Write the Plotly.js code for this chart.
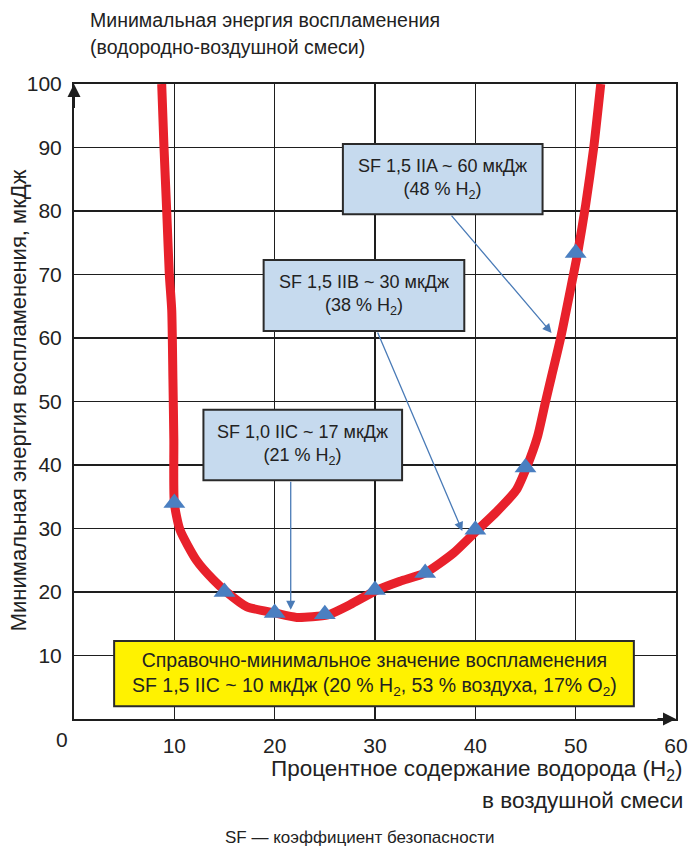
<!DOCTYPE html>
<html>
<head>
<meta charset="utf-8">
<script src="https://cdn.plot.ly/plotly-3.0.1.min.js"></script>
<style>html,body{margin:0;padding:0;background:#fff;}#chart{width:690px;height:854px;}</style>
</head>
<body>
<div id="chart"></div>
<script>
// Curve (H2 %, minimum ignition energy, µJ)
const curveX = [8.74, 8.97, 9.24, 9.5, 9.74, 9.86, 9.95, 10.0, 10.56, 12.2, 13.9, 15.2, 17.2, 20, 22.2, 25.3, 27.5, 30.2, 32.5, 35, 37.8, 40.1, 42.1, 44.1, 45.1, 46.2, 47.0, 47.6, 48.5, 49.4, 50.2, 51.0, 51.8, 52.5];
const curveY = [100, 90, 80, 70, 64.4, 53.4, 44, 34, 29.8, 25, 21.9, 20, 17.7, 16.7, 16, 16.4, 18, 20.3, 21.7, 23, 26.1, 29.6, 32.6, 36.1, 39.6, 44.5, 50, 54, 60, 67, 73.4, 81, 90, 100];
// Measured points (triangles)
const pointX = [10, 15, 20, 25, 30, 35, 40, 45, 50];
const pointY = [34, 20, 16.7, 16.5, 20.3, 23, 29.8, 39.6, 73.4];
// Tick values
const xTicks = [10, 20, 30, 40, 50, 60];
const yTicks = [10, 20, 30, 40, 50, 60, 70, 80, 90, 100];

const FONT = 'Liberation Sans, Arial, sans-serif';
const TXT = '#222222';
const BOX = '#c6daee';
const ARROW = '#4a7bb7';

const traces = [
  {x: curveX, y: curveY, type: 'scatter', mode: 'lines',
   line: {color: '#e8212b', width: 9, shape: 'spline', smoothing: 0.6},
   hoverinfo: 'skip', cliponaxis: true},
  {x: pointX, y: pointY, type: 'scatter', mode: 'markers',
   marker: {symbol: 'triangle-up', size: 19, color: '#4a7fc1', line: {width: 0}},
   cliponaxis: false}
];

function box(x0, x1, y0, y1, color) {
  return {type: 'rect', xref: 'x', yref: 'y', x0: x0, x1: x1, y0: y0, y1: y1,
          fillcolor: color, line: {color: '#2a2a2a', width: 2}, layer: 'above'};
}
function arrowAnn(x, y, ax, ay) {
  return {x: x, y: y, ax: ax, ay: ay, xref: 'x', yref: 'y', axref: 'x', ayref: 'y',
          text: '', showarrow: true, arrowhead: 2, arrowsize: 1.4, arrowwidth: 1.3,
          arrowcolor: ARROW, standoff: 0};
}
function label(x, y, text, size) {
  return {x: x, y: y, xref: 'x', yref: 'y', text: text, showarrow: false,
          font: {family: FONT, size: size || 18, color: TXT}, align: 'center'};
}

const layout = {
  width: 690, height: 854,
  margin: {l: 74, r: 14, t: 84, b: 135},
  paper_bgcolor: '#ffffff', plot_bgcolor: '#ffffff',
  showlegend: false,
  font: {family: FONT, color: TXT, size: 21},
  xaxis: {range: [0, 60], tickvals: xTicks, ticktext: xTicks.map(String),
          showgrid: true, gridcolor: '#1e1e1e', gridwidth: 1.5,
          showline: true, linecolor: '#1e1e1e', linewidth: 2, mirror: true,
          zeroline: false, ticks: '', ticklabelstandoff: 7,
          tickfont: {family: FONT, size: 21, color: TXT}, fixedrange: true},
  yaxis: {range: [0, 100], tickvals: yTicks, ticktext: yTicks.map(String),
          showgrid: true, gridcolor: '#1e1e1e', gridwidth: 1.5,
          showline: true, linecolor: '#1e1e1e', linewidth: 2, mirror: true,
          zeroline: false, ticks: '', ticklabelstandoff: 6,
          tickfont: {family: FONT, size: 21, color: TXT}, fixedrange: true},
  shapes: [
    box(26.8, 46.7, 79.5, 90.55, BOX),
    box(18.9, 38.9, 61.1, 72.3, BOX),
    box(12.9, 32.7, 37.6, 48.7, BOX),
    box(4.0, 55.8, 2.0, 12.3, '#fff200')
  ],
  annotations: [
    arrowAnn(47.6, 60.8, 37.5, 79.5),
    arrowAnn(38.7, 29.6, 30.2, 61.1),
    arrowAnn(21.6, 17.2, 21.6, 37.6),
    // axis arrowheads
    {x: 0, y: 100, ax: 0, ay: 96, xref: 'x', yref: 'y', axref: 'x', ayref: 'y', text: '',
     showarrow: true, arrowhead: 2, arrowsize: 1.3, arrowwidth: 2, arrowcolor: '#1e1e1e', standoff: 0},
    {x: 60, y: 0, ax: 58, ay: 0, xref: 'x', yref: 'y', axref: 'x', ayref: 'y', text: '',
     showarrow: true, arrowhead: 2, arrowsize: 1.3, arrowwidth: 2, arrowcolor: '#1e1e1e', standoff: 0},
    label(36.75, 85.0, 'SF 1,5 IIA ~ 60 мкДж<br>(48 % H<sub>2</sub>)'),
    label(28.9, 66.7, 'SF 1,5 IIB ~ 30 мкДж<br>(38 % H<sub>2</sub>)'),
    label(22.8, 43.15, 'SF 1,0 IIC ~ 17 мкДж<br>(21 % H<sub>2</sub>)'),
    label(29.9, 7.15, 'Справочно-минимальное значение воспламенения<br>SF 1,5 IIC ~ 10 мкДж (20 % H<sub>2</sub>, 53 % воздуха, 17% O<sub>2</sub>)', 19.5),
    // origin label
    {x: -0.02, y: -0.033, xref: 'paper', yref: 'paper', text: '0', showarrow: false,
     xanchor: 'center', yanchor: 'middle', font: {family: FONT, size: 21, color: TXT}},
    // chart title (top left)
    {x: 0.023, y: 1.10, xref: 'paper', yref: 'paper', xanchor: 'left', yanchor: 'middle',
     text: 'Минимальная энергия воспламенения', showarrow: false,
     font: {family: FONT, size: 19.5, color: TXT}},
    {x: 0.023, y: 1.058, xref: 'paper', yref: 'paper', xanchor: 'left', yanchor: 'middle',
     text: '(водородно-воздушной смеси)', showarrow: false,
     font: {family: FONT, size: 19.5, color: TXT}},
    // y axis title
    {x: -0.093, y: 0.502, xref: 'paper', yref: 'paper', xanchor: 'center', yanchor: 'middle',
     text: 'Минимальная энергия воспламенения, мкДж', textangle: -90, showarrow: false,
     font: {family: FONT, size: 22, color: TXT}},
    // x axis title (right aligned, two lines)
    {x: 1.015, y: -0.080, xref: 'paper', yref: 'paper', xanchor: 'right', yanchor: 'middle',
     text: 'Процентное содержание водорода (H<sub>2</sub>)', showarrow: false,
     font: {family: FONT, size: 22.5, color: TXT}},
    {x: 1.015, y: -0.128, xref: 'paper', yref: 'paper', xanchor: 'right', yanchor: 'middle',
     text: 'в воздушной смеси', showarrow: false,
     font: {family: FONT, size: 22.5, color: TXT}},
    // caption
    {x: 0.475, y: -0.187, xref: 'paper', yref: 'paper', xanchor: 'center', yanchor: 'middle',
     text: 'SF — коэффициент безопасности', showarrow: false,
     font: {family: FONT, size: 17, color: TXT}}
  ]
};

Plotly.newPlot('chart', traces, layout, {displayModeBar: false, staticPlot: true});
</script>
</body>
</html>
